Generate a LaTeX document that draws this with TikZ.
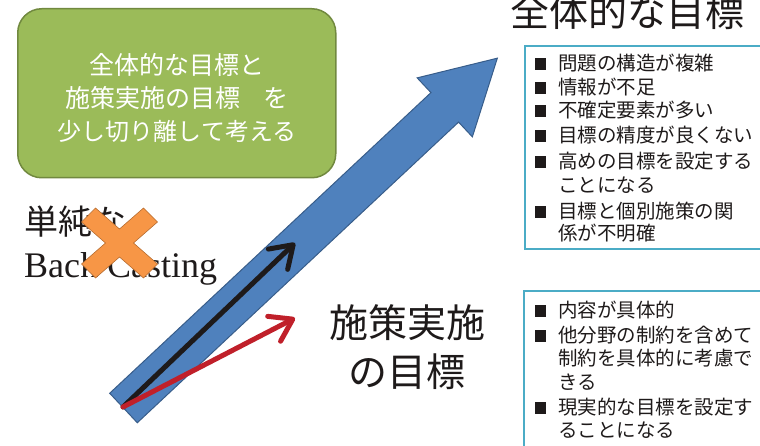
\documentclass[tikz,border=0pt]{standalone}
\usepackage{fontspec}
\setmainfont{Liberation Serif}
\newfontfamily\jp{Noto Sans CJK JP}
\usetikzlibrary{arrows.meta}
\definecolor{greenfill}{HTML}{9BBB59}
\definecolor{greenline}{HTML}{71893F}
\definecolor{bluefill}{HTML}{4F81BD}
\definecolor{blueline}{HTML}{385D8A}
\definecolor{boxline}{HTML}{4BACC6}
\definecolor{orangefill}{HTML}{F79646}
\definecolor{orangeline}{HTML}{B66D31}
\definecolor{darktext}{HTML}{1E1A1A}
\definecolor{redarrow}{HTML}{C0202A}
\definecolor{blackarrow}{HTML}{1E1A1A}
\begin{document}
\begin{tikzpicture}[x=1pt,y=-1pt,
  jptext/.style={font=\jp, text=darktext, inner sep=0pt},
  itemtext/.style={jptext, anchor=west, font=\jp\fontsize{19.5}{24}\selectfont},
  bulletsq/.style={fill=darktext, minimum size=11.5pt, inner sep=0pt},
  listbox/.style={draw=boxline, line width=1.8pt, anchor=north west, inner sep=0pt},
  greenbox/.style={draw=greenline, line width=1.5pt, fill=greenfill, rounded corners=24pt, anchor=north west, inner sep=0pt},
  thinarrow/.style={line width=5pt, line cap=round, -{Straight Barb[length=21pt,width=28pt,round]}}
]
\useasboundingbox (0,0) rectangle (760,446);
\clip (0,0) rectangle (760,446);

% green box
\node (gbox) [greenbox, minimum width=318pt, minimum height=169pt] at (17,8) {};
\node (gtext) [jptext, text=white, align=center, font=\jp\fontsize{25}{33}\selectfont] at (177,97.5)
  {全体的な目標と\\施策実施の目標\hspace{0.9em}を\\{\fontsize{24}{33}\selectfont 少し切り離して考える}};

% big blue arrow
\begin{scope}[shift={(123.5,408)}, rotate=43.1]
  \draw[fill=bluefill, draw=blueline, line width=1pt, line join=miter]
    (0,-20.2) -- (440,-20.2) -- (440,-40.4) -- (512,0) -- (440,40.4) -- (440,20.2) -- (0,20.2) -- cycle;
\end{scope}

% thin arrows
\coordinate (tail) at (123,407);
\coordinate (blacktip) at (295,243);
\coordinate (redtip) at (295,318);
\draw[thinarrow, draw=blackarrow] (tail) -- (blacktip);
\draw[thinarrow, draw=redarrow] (tail) -- (redtip);

% titles
\node (title1) [jptext, font=\jp\fontsize{39}{47}\selectfont] at (627,12) {全体的な目標};
\node (title2) [jptext, align=center, font=\jp\fontsize{39}{49}\selectfont] at (407,347.5) {施策実施\\の目標};

% simple back casting
\node (tanjun) [jptext, anchor=west, font=\jp\fontsize{34}{40}\selectfont] at (24,222) {単純な};
\node (backc) [inner sep=0pt, anchor=base west, text=darktext, font=\fontsize{36}{40}\selectfont] at (24,278) {Back Casting};
\begin{scope}[shift={(119.5,243)}]
  \draw[fill=orangefill, draw=orangeline, line width=0.6pt]
    (-38,-21) -- (-24,-35) -- (0,-14) -- (24,-35) -- (38,-21) -- (14,0) -- (38,21) -- (24,35) -- (0,14) -- (-24,35) -- (-38,21) -- (-14,0) -- cycle;
\end{scope}

% list box 1
\node (box1) [listbox, minimum width=260pt, minimum height=203pt] at (524,45) {};
\node (b1s1) [bulletsq] at (540.5,64) {};
\node (b1t1) [itemtext] at (558,63) {問題の構造が複雑};
\node (b1s2) [bulletsq] at (540.5,88) {};
\node (b1t2) [itemtext] at (558,87) {情報が不足};
\node (b1s3) [bulletsq] at (540.5,111) {};
\node (b1t3) [itemtext] at (558,110) {不確定要素が多い};
\node (b1s4) [bulletsq] at (540.5,136) {};
\node (b1t4) [itemtext] at (558,135) {目標の精度が良くない};
\node (b1s5) [bulletsq] at (540.5,162) {};
\node (b1t5) [itemtext] at (558,161) {高めの目標を設定する};
\node (b1t6) [itemtext] at (558,185) {ことになる};
\node (b1s7) [bulletsq] at (540.5,212) {};
\node (b1t7) [itemtext] at (558,211) {目標と個別施策の関};
\node (b1t8) [itemtext] at (558,233) {係が不明確};

% list box 2
\node (box2) [listbox, minimum width=260pt, minimum height=180pt] at (523,290) {};
\node (b2s1) [bulletsq] at (540.5,311) {};
\node (b2t1) [itemtext] at (558,310) {内容が具体的};
\node (b2s2) [bulletsq] at (540.5,336) {};
\node (b2t2) [itemtext] at (558,335) {他分野の制約を含めて};
\node (b2t3) [itemtext] at (558,358) {制約を具体的に考慮で};
\node (b2t4) [itemtext] at (558,382) {きる};
\node (b2s5) [bulletsq] at (540.5,408) {};
\node (b2t5) [itemtext] at (558,407) {現実的な目標を設定す};
\node (b2t6) [itemtext] at (558,430) {ることになる};
\end{tikzpicture}
\end{document}
